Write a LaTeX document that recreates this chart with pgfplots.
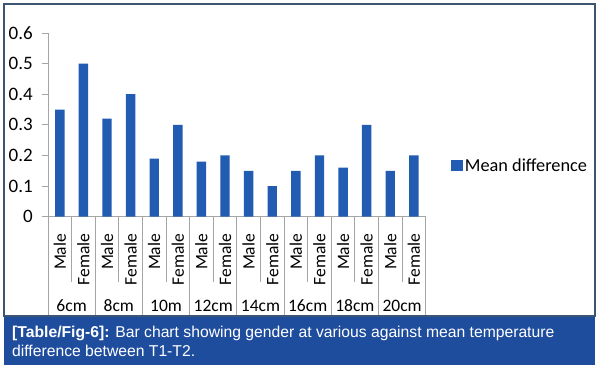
\documentclass[border=0pt]{standalone}
\usepackage{fontspec}
\setmainfont{Carlito}
\newfontfamily\capfont{Liberation Sans}
\usepackage{pgfplots}
\pgfplotsset{compat=1.18}
\definecolor{barblue}{RGB}{33,92,178}
\definecolor{bandblue}{RGB}{31,77,158}
\definecolor{framec}{RGB}{60,85,115}
\definecolor{axgray}{RGB}{165,165,165}
\pgfplotstableread{
x y
0 0.35
1 0.50
2 0.32
3 0.40
4 0.19
5 0.30
6 0.18
7 0.20
8 0.15
9 0.10
10 0.15
11 0.20
12 0.16
13 0.30
14 0.15
15 0.20
}\meandiff
\begin{document}
\begin{tikzpicture}
\useasboundingbox (0bp,0bp) rectangle (600bp,369bp);
\fill[white] (0bp,0bp) rectangle (600bp,369bp);
\fill[bandblue] (3.5bp,4bp) rectangle (595bp,53bp);
\draw[framec, line width=1.2bp] (4bp,53bp) rectangle (595bp,365bp);
\node[anchor=base west, inner sep=0pt, text=white, font=\capfont\fontsize{15.7bp}{19bp}\selectfont, align=left] at (12bp,31.3bp) {\textbf{[Table/Fig-6]:} Bar chart showing gender at various against mean temperature};
\node[anchor=base west, inner sep=0pt, text=white, font=\capfont\fontsize{15.7bp}{19bp}\selectfont] at (12bp,12.3bp) {difference between T1-T2.};
\begin{axis}[
  at={(48bp,152.3bp)}, anchor=south west,
  scale only axis, width=377.7bp, height=183.7bp,
  xmin=-0.5, xmax=15.5, ymin=0, ymax=0.6,
  axis x line=bottom, axis y line=left,
  axis line style={-, draw=axgray, line width=0.9bp},
  clip=false,
  ytick={0,0.1,0.2,0.3,0.4,0.5,0.6},
  yticklabels={0,0.1,0.2,0.3,0.4,0.5,0.6},
  tick align=outside,
  major tick length=6bp,
  y tick style={draw=axgray, line width=0.9bp},
  yticklabel style={font=\fontsize{19bp}{19bp}\selectfont, inner sep=0pt, xshift=-9bp},
  xtick={0,...,15},
  xticklabels={Male,Female,Male,Female,Male,Female,Male,Female,Male,Female,Male,Female,Male,Female,Male,Female},
  x tick style={draw=none},
  xticklabel style={yshift=-11bp, rotate=90, anchor=east, inner sep=0pt, font=\fontsize{17.5bp}{17.5bp}\selectfont},
  legend style={at={(1.067,0.279)}, anchor=west, draw=none, fill=none, inner sep=0pt,
    font=\fontsize{18.3bp}{18.3bp}\selectfont},
  legend image code/.code={\fill[barblue] (0bp,-5.3bp) rectangle (11.7bp,5.3bp);},
]
\addplot[ybar, bar width=9.4bp, fill=barblue, draw=none] table[x=x,y=y] {\meandiff};
\addlegendentry{Mean difference}
\pgfplotsinvokeforeach{0,2,4,6,8,10,12,14,16}{
  \draw[axgray, line width=0.9bp] (axis cs:#1-0.5,0) -- ++(0bp,-98.5bp);
}
\pgfplotsinvokeforeach{1,3,5,7,9,11,13,15}{
  \draw[axgray, line width=0.9bp] (axis cs:#1-0.5,0) -- ++(0bp,-65bp);
}
\node[anchor=base, font=\fontsize{17.5bp}{17.5bp}\selectfont] at (axis cs:0.5,0) [yshift=-94.8bp] {6cm};
\node[anchor=base, font=\fontsize{17.5bp}{17.5bp}\selectfont] at (axis cs:2.5,0) [yshift=-94.8bp] {8cm};
\node[anchor=base, font=\fontsize{17.5bp}{17.5bp}\selectfont] at (axis cs:4.5,0) [yshift=-94.8bp] {10m};
\node[anchor=base, font=\fontsize{17.5bp}{17.5bp}\selectfont] at (axis cs:6.5,0) [yshift=-94.8bp] {12cm};
\node[anchor=base, font=\fontsize{17.5bp}{17.5bp}\selectfont] at (axis cs:8.5,0) [yshift=-94.8bp] {14cm};
\node[anchor=base, font=\fontsize{17.5bp}{17.5bp}\selectfont] at (axis cs:10.5,0) [yshift=-94.8bp] {16cm};
\node[anchor=base, font=\fontsize{17.5bp}{17.5bp}\selectfont] at (axis cs:12.5,0) [yshift=-94.8bp] {18cm};
\node[anchor=base, font=\fontsize{17.5bp}{17.5bp}\selectfont] at (axis cs:14.5,0) [yshift=-94.8bp] {20cm};
\end{axis}
\end{tikzpicture}
\end{document}
